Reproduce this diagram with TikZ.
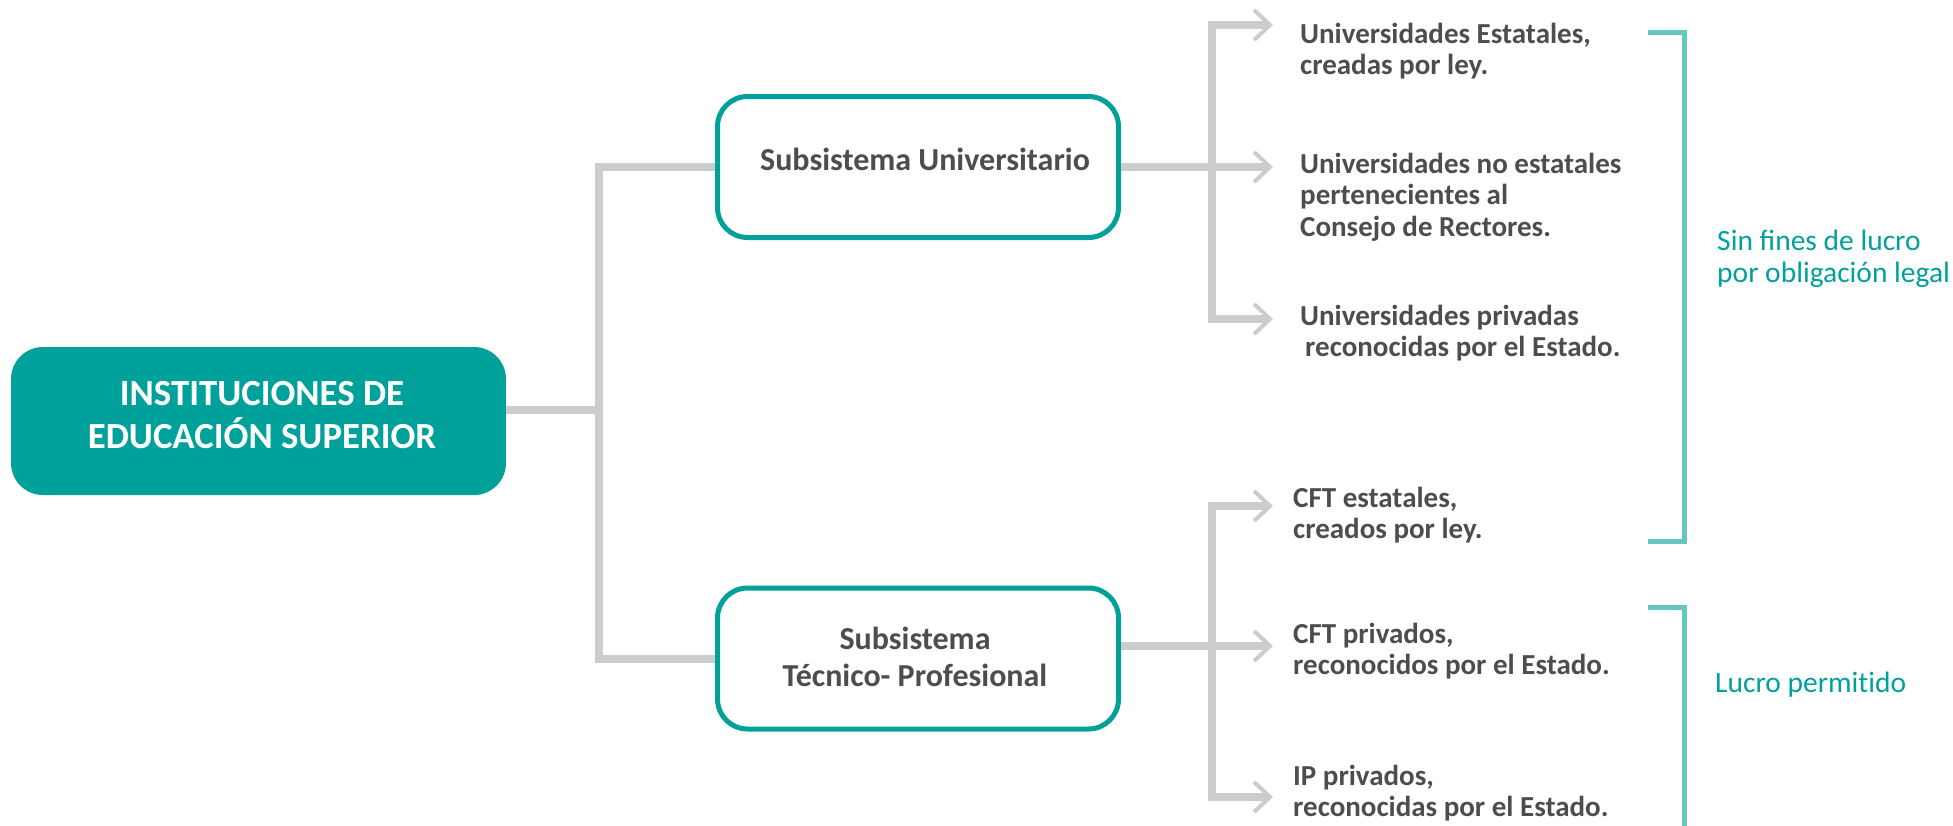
\documentclass[tikz,border=0pt]{standalone}
\usepackage{fontspec}
\setmainfont{Carlito}
\usetikzlibrary{arrows.meta}
\definecolor{tealA}{HTML}{00A19A}
\definecolor{tealB}{HTML}{66C7C0}
\definecolor{lgray}{HTML}{CCCCCC}
\definecolor{tgray}{HTML}{4D4D4D}
\newcommand\mytab[2][l]{\begin{tabular}[t]{@{}#1@{}}#2\end{tabular}}
\begin{document}
\begin{tikzpicture}[x=1pt,y=-1pt,
  conn/.style={draw=lgray,line width=8pt},
  arr/.style={conn,-{Straight Barb[length=16pt,width=30pt,line width=4pt]}},
  mainbox/.style={fill=tealA,rounded corners=32pt,minimum width=495pt,minimum height=148pt,inner sep=0pt},
  subbox/.style={draw=tealA,fill=white,line width=5pt,rounded corners=30pt,minimum width=401pt,minimum height=141pt,inner sep=0pt},
  item/.style={inner sep=0pt,anchor=base west,text=tgray,font=\bfseries\fontsize{29}{31.5}\selectfont},
  note/.style={inner sep=0pt,anchor=base west,text=tealA,font=\fontsize{29.5}{32}\selectfont\addfontfeatures{Ligatures=NoCommon}},
  brk/.style={draw=tealB,line width=5pt}
]
\useasboundingbox (0,0) rectangle (1953,825);

% boxes
\node[mainbox] (ies) at (258.5,421) {};
\node[inner sep=0pt,anchor=base,text=white,font=\bfseries\fontsize{36.8}{43}\selectfont] (iesT) at (262,405) {\mytab[c]{INSTITUCIONES DE\\EDUCACIÓN SUPERIOR}};
\node[subbox] (ub) at (918,167) {};
\node[inner sep=0pt,anchor=base,text=tgray,font=\bfseries\fontsize{32}{37}\selectfont] (ubT) at (925,170) {Subsistema Universitario};
\node[subbox] (tb) at (918,658.5) {};
\node[inner sep=0pt,anchor=base,text=tgray,font=\bfseries\fontsize{32}{37}\selectfont] (tbT) at (915,649) {\mytab[c]{Subsistema\\Técnico- Profesional}};

% left connectors
\coordinate (jl) at (599,410);
\draw[conn] (ies.east |- jl) -- (jl);
\draw[conn] (ub.west) -| (jl) |- (tb.west);

% upper right tree
\coordinate (ju) at (1212,167);
\coordinate (a1) at (1273,25);
\coordinate (a2) at (1273,167);
\coordinate (a3) at (1273,319);
\draw[conn] (ub.east) -- (ju);
\draw[arr] (ju) |- (a1);
\draw[arr] (ju) -- (a2);
\draw[arr] (ju) |- (a3);

% lower right tree
\coordinate (jt) at (1212,646);
\coordinate (b1) at (1273,506);
\coordinate (b2) at (1273,646);
\coordinate (b3) at (1273,797);
\draw[conn] ([yshift=12.5pt]tb.east) -- (jt);
\draw[arr] (jt) |- (b1);
\draw[arr] (jt) -- (b2);
\draw[arr] (jt) |- (b3);

% items
\node[item] (u1) at (1300,43) {\mytab{Universidades Estatales,\\creadas por ley.}};
\node[item] (u2) at (1300,173) {\mytab{Universidades no estatales\\pertenecientes al\\Consejo de Rectores.}};
\node[item] (u3) at (1300,325) {\mytab{Universidades privadas\\\hspace{5pt}reconocidas por el Estado.}};
\node[item] (c1) at (1293,507) {\mytab{CFT estatales,\\creados por ley.}};
\node[item] (c2) at (1293,643) {\mytab{CFT privados,\\reconocidos por el Estado.}};
\node[item] (c3) at (1293,785) {\mytab{IP privados,\\reconocidas por el Estado.}};

% brackets
\draw[brk] (1648,32) -- (1684,32) -- (1684,541) -- (1648,541);
\draw[brk] (1648,607) -- (1684,607) -- (1684,830);
\node[note] (n1) at (1717,250) {\mytab{Sin ^^^^fb01nes de lucro\\por obligación legal}};
\node[note] (n2) at (1715,692) {Lucro permitido};
\end{tikzpicture}
\end{document}
